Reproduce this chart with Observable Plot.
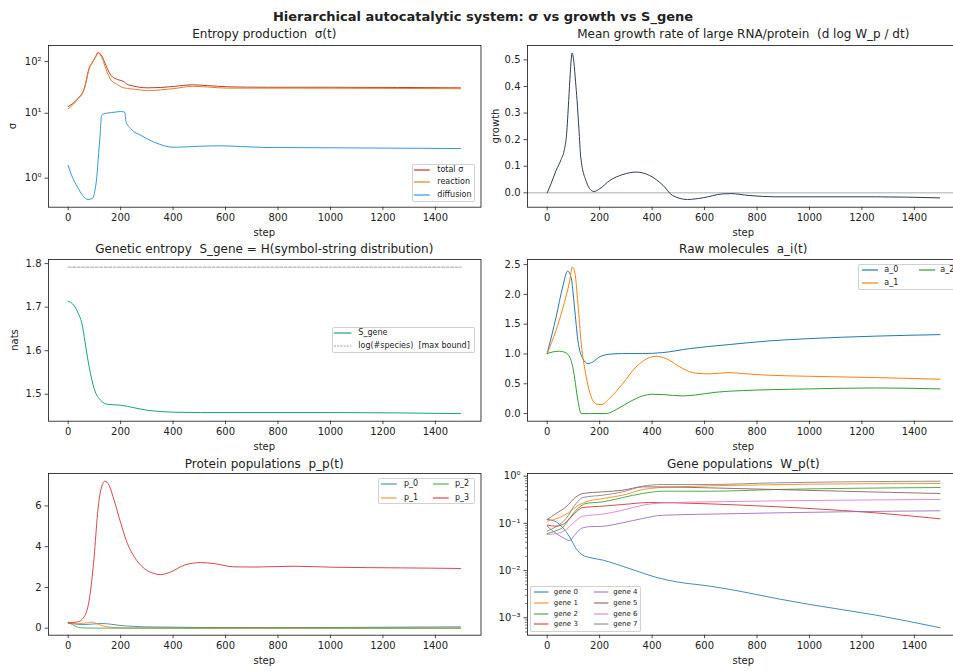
<!DOCTYPE html>
<html><head><meta charset="utf-8">
<script src="https://cdn.jsdelivr.net/npm/d3@7"></script>
<script src="https://cdn.jsdelivr.net/npm/@observablehq/plot@0.6"></script>
<style>
html,body{margin:0;padding:0;background:#fff;overflow:hidden;}
#fig{position:relative;width:953px;height:671px;overflow:hidden;font-family:"DejaVu Sans",sans-serif;color:#222;}
.t{position:absolute;white-space:pre;line-height:1;}
.lg{position:absolute;box-sizing:border-box;border:1px solid rgba(204,204,204,0.9);border-radius:2px;background:rgba(255,255,255,0.8);}
</style></head><body><div id="fig"></div>
<script>
// ---------------- data ----------------
const xTicks = [0, 200, 400, 600, 800, 1000, 1200, 1400];
const stepDomain = [-75, 1574];

// Entropy production sigma(t): [step, value]
const sigmaTotal = [[0,13.5],[36,19],[61,29.7],[81,77],[93,98],[105,125],[114,150],[125,135],[150,72],[163,54],[188,45],[201,43],[215,40],[222,37],[240,34.5],[270,32],[302,31],[353,31.5],[404,33],[474,35.5],[531,34.3],[607,32.5],[759,31.8],[1013,31.8],[1496,31]];
const sigmaReaction = [[0,12.2],[36,18.5],[61,29],[81,75],[93,97],[105,124],[114,147],[125,128],[150,60],[163,44],[188,36],[201,32.5],[226,30.2],[252,29.2],[302,27.5],[353,28.3],[404,30],[474,33.2],[531,32.2],[607,30.6],[759,30.6],[1013,30.5],[1496,29.8]];
const sigmaDiffusion = [[0,1.44],[16,1.035],[36,0.687],[55,0.40],[76,0.26],[93,0.30],[102,0.57],[109,1.035],[116,1.85],[122,4.0],[127,9.05],[137,9.75],[175,10.47],[200,10.8],[216,10.5],[220,7.0],[239,5.0],[278,3.72],[329,2.75],[404,2.2],[506,2.31],[582,2.35],[658,2.28],[759,2.18],[1013,2.15],[1496,2.08]];
const sigmaTicks = [1, 10, 100];
const sigmaTickLabels = ["10\u2070", "10\u00b9", "10\u00b2"];

// Mean growth rate
const growth = [[0,0],[15,0.035],[34,0.084],[53,0.125],[65,0.16],[74,0.22],[82,0.347],[88,0.45],[95,0.526],[102,0.49],[108,0.42],[114,0.347],[121,0.24],[128,0.134],[150,0.04],[165,0.012],[178,0.005],[200,0.015],[238,0.046],[289,0.069],[340,0.078],[391,0.065],[442,0.028],[478,-0.01],[535,-0.025],[592,-0.019],[669,-0.004],[700,-0.003],[770,-0.01],[871,-0.015],[998,-0.015],[1252,-0.015],[1497,-0.019]];
const growthTicks = [0, 0.1, 0.2, 0.3, 0.4, 0.5];

// Genetic entropy
const sGene = [[0,1.7135],[16,1.708],[36,1.689],[55,1.655],[67,1.609],[80,1.563],[99,1.513],[124,1.486],[150,1.477],[201,1.4748],[252,1.469],[302,1.4633],[379,1.4595],[404,1.4588],[505,1.458],[1013,1.458],[1496,1.4556]];
const sGeneBound = [[0,1.7918],[1499,1.7918]];
const sGeneTicks = [1.5, 1.6, 1.7, 1.8];

// Raw molecules
const a0 = [[0,1.007],[34,1.62],[59,2.125],[78,2.39],[91,2.29],[104,1.79],[117,1.23],[136,0.92],[155,0.84],[174,0.867],[199,0.95],[237,0.996],[288,1.007],[364,1.007],[440,1.023],[542,1.09],[694,1.158],[847,1.22],[999,1.258],[1253,1.30],[1498,1.325]];
const a1 = [[0,1.007],[34,1.40],[59,1.76],[85,2.21],[96,2.46],[106,2.35],[117,1.85],[130,1.17],[149,0.615],[168,0.28],[187,0.16],[205,0.15],[237,0.252],[288,0.503],[339,0.783],[390,0.94],[415,0.962],[453,0.923],[517,0.755],[567,0.677],[618,0.666],[694,0.688],[745,0.671],[847,0.643],[999,0.626],[1253,0.604],[1498,0.576]];
const a2 = [[0,1.007],[22,1.035],[47,1.046],[72,1.018],[91,0.895],[104,0.615],[117,0.224],[130,0],[161,0],[225,0],[263,0.067],[314,0.196],[364,0.296],[402,0.324],[440,0.319],[517,0.296],[567,0.313],[643,0.358],[745,0.386],[872,0.403],[999,0.414],[1253,0.43],[1498,0.414]];
const aTicks = [0, 0.5, 1, 1.5, 2, 2.5];

// Protein populations
const p0 = [[0,0.26],[30,0.2],[61,0.18],[100,0.21],[130,0.23],[160,0.2],[201,0.13],[250,0.09],[290,0.065],[400,0.05],[505,0.035],[800,0.03],[1013,0.035],[1250,0.05],[1496,0.065]];
const p1 = [[0,0.25],[36,0.22],[70,0.26],[93,0.3],[110,0.22],[124,0.15],[150,0.07],[175,0.03],[230,0.01],[400,0.005],[1496,0.003]];
const p2 = [[0,0.3],[12,0.2],[25,0.11],[40,0.04],[55,0.015],[100,0.005],[1496,0.002]];
const p3 = [[0,0.26],[36,0.31],[61,0.56],[80,1.37],[99,3.5],[112,5.62],[124,6.77],[140,7.21],[156,7.01],[175,6.28],[201,5.13],[226,4.15],[252,3.5],[290,2.93],[328,2.68],[353,2.63],[391,2.76],[442,3.09],[505,3.22],[556,3.17],[632,3.01],[709,3.0],[861,3.04],[1013,2.99],[1267,2.96],[1496,2.93]];
const pTicks = [0, 2, 4, 6];

// Gene populations
const g0 = [[0,0.121],[34,0.108],[59,0.082],[85,0.052],[110,0.0295],[136,0.0212],[161,0.019],[212,0.0167],[263,0.0137],[339,0.0099],[415,0.0072],[491,0.0058],[618,0.0047],[745,0.00356],[872,0.00257],[999,0.00192],[1253,0.00114],[1498,0.000615]];
const g1 = [[0,0.111],[47,0.133],[80,0.165],[110,0.224],[148,0.286],[212,0.336],[288,0.396],[364,0.52],[415,0.566],[491,0.594],[745,0.645],[999,0.677],[1498,0.70]];
const g2 = [[0,0.061],[34,0.070],[59,0.082],[85,0.127],[110,0.19],[148,0.264],[212,0.286],[288,0.353],[364,0.43],[440,0.481],[618,0.48],[872,0.522],[1498,0.575]];
const g3 = [[0,0.092],[34,0.087],[66,0.10],[98,0.149],[136,0.217],[212,0.232],[288,0.251],[390,0.277],[491,0.272],[745,0.243],[999,0.207],[1253,0.167],[1498,0.125]];
const g4 = [[0,0.087],[34,0.061],[66,0.048],[85,0.043],[104,0.056],[130,0.078],[161,0.085],[212,0.087],[288,0.103],[364,0.127],[440,0.149],[618,0.157],[872,0.167],[1126,0.176],[1498,0.185]];
const g5 = [[0,0.121],[34,0.162],[72,0.224],[110,0.365],[136,0.43],[212,0.466],[288,0.505],[364,0.594],[415,0.594],[618,0.566],[872,0.522],[1126,0.48],[1498,0.43]];
const g6 = [[0,0.058],[47,0.063],[72,0.074],[98,0.10],[136,0.142],[212,0.157],[288,0.19],[364,0.243],[440,0.272],[618,0.286],[872,0.30],[1126,0.31],[1498,0.321]];
const g7 = [[0,0.0685],[34,0.085],[72,0.127],[110,0.264],[136,0.353],[212,0.396],[288,0.466],[364,0.614],[440,0.667],[618,0.667],[872,0.723],[1126,0.758],[1498,0.784]];
const geneTicks = [1e-3, 1e-2, 1e-1, 1];
const geneTickLabels = ["10\u207b\u00b3", "10\u207b\u00b2", "10\u207b\u00b9", "10\u2070"];

// ---------------- helpers ----------------
const fig = document.getElementById("fig");
const tab10 = ["#1f77b4","#ff7f0e","#2ca02c","#d62728","#9467bd","#8c564b","#e377c2","#7f7f7f"];

// matplotlib-like symlog (linthresh 2, linscale 1, base 10)
const LT = 2, LS = 1 / (1 - 1 / 10);
function symf(v) {
  const a = Math.abs(v);
  const r = a <= LT ? a * LS : LT * (LS + Math.log10(a / LT));
  return Math.sign(v) * r;
}

const FW = 432.5, FH = 161.7;
const ML = 50, MT = 4, MR = 4, MB = 24;
const colX = [48, 527];
const rowY = [45, 259.2, 473.3];

function xAxis() {
  return Plot.axisX({ticks: xTicks, tickSize: 3.5, tickPadding: 3.5, tickFormat: d => String(d), label: null, strokeWidth: 0.8});
}

function panel(ci, ri, y, marks) {
  const p = Plot.plot({
    width: FW + ML + MR, height: FH + MT + MB,
    marginLeft: ML, marginRight: MR, marginTop: MT, marginBottom: MB,
    x: {domain: stepDomain, label: null},
    y: {...y, label: null},
    style: {fontFamily: "DejaVu Sans", fontSize: "10px", color: "#222", background: "transparent", overflow: "visible"},
    marks: [...marks, Plot.frame({stroke: "#111", strokeWidth: 0.8}), xAxis()]
  });
  p.style.position = "absolute";
  p.style.left = (colX[ci] - ML) + "px";
  p.style.top = (rowY[ri] - MT) + "px";
  fig.appendChild(p);
}

function line(data, color, opts = {}) {
  return Plot.line(data, {x: d => d[0], y: d => d[1], stroke: color, strokeWidth: 1, curve: "monotone-x", ...opts});
}

function text(str, x, y, size, extra = "") {
  const d = document.createElement("div");
  d.className = "t";
  d.textContent = str;
  d.style.cssText += `left:${x}px;top:${y}px;font-size:${size}px;transform:translate(-50%,-50%) ${extra};`;
  fig.appendChild(d);
  return d;
}

function legend(left, top, w, h, items, lay) {
  const box = document.createElement("div");
  box.className = "lg";
  box.style.cssText += `left:${left}px;top:${top}px;width:${w}px;height:${h}px;`;
  fig.appendChild(box);
  items.forEach((it, i) => {
    const c = Math.floor(i / lay.rows), r = i % lay.rows;
    const cy = top + lay.y0 + r * lay.dy;
    const sx = left + lay.sx[c];
    const s = document.createElementNS("http://www.w3.org/2000/svg", "svg");
    s.setAttribute("width", lay.len + 2); s.setAttribute("height", 4);
    s.style.cssText = `position:absolute;left:${sx - 1}px;top:${cy - 2}px;overflow:visible;`;
    const l = document.createElementNS("http://www.w3.org/2000/svg", "line");
    l.setAttribute("x1", 1); l.setAttribute("x2", lay.len + 1); l.setAttribute("y1", 2); l.setAttribute("y2", 2);
    l.setAttribute("stroke", it.color); l.setAttribute("stroke-width", it.width || 1.2);
    if (it.dash) l.setAttribute("stroke-dasharray", it.dash);
    if (it.opacity) l.setAttribute("stroke-opacity", it.opacity);
    s.appendChild(l); fig.appendChild(s);
    const t = document.createElement("div");
    t.className = "t";
    t.textContent = it.label;
    t.style.cssText += `left:${left + lay.tx[c]}px;top:${cy}px;font-size:${lay.fs}px;transform:translateY(-50%);`;
    fig.appendChild(t);
  });
}

// ---------------- panels ----------------
const cTotal = "#c0392b", cReact = "#e67e22", cDiff = "#3498db";
// Entropy production (symlog y)
panel(0, 0, {domain: [-0.01, 6.24]}, [
  Plot.line(sigmaTotal, {x: d => d[0], y: d => symf(d[1]), stroke: cTotal, strokeWidth: 1, curve: "monotone-x"}),
  Plot.line(sigmaReaction, {x: d => d[0], y: d => symf(d[1]), stroke: cReact, strokeWidth: 1, curve: "monotone-x"}),
  Plot.line(sigmaDiffusion, {x: d => d[0], y: d => symf(d[1]), stroke: cDiff, strokeWidth: 1, curve: "monotone-x"}),
  Plot.axisY({ticks: sigmaTicks.map(symf), tickSize: 3.5, tickPadding: 3.5, strokeWidth: 0.8, label: null,
    tickFormat: d => sigmaTickLabels[sigmaTicks.findIndex(t => Math.abs(symf(t) - d) < 1e-9)]})
]);

// Growth
panel(1, 0, {domain: [-0.054, 0.554]}, [
  Plot.ruleY([0], {stroke: "#999", strokeWidth: 0.8}),
  line(growth, "#2c3e50"),
  Plot.axisY({ticks: growthTicks, tickSize: 3.5, tickPadding: 3.5, strokeWidth: 0.8, label: null, tickFormat: d3.format(".1f")})
]);

// Genetic entropy
panel(0, 1, {domain: [1.4382, 1.8094]}, [
  line(sGene, "#16a085"),
  Plot.line(sGeneBound, {x: d => d[0], y: d => d[1], stroke: "#888", strokeWidth: 0.8, strokeDasharray: "3,1.5"}),
  Plot.axisY({ticks: sGeneTicks, tickSize: 3.5, tickPadding: 3.5, strokeWidth: 0.8, label: null, tickFormat: d3.format(".1f")})
]);

// Raw molecules
panel(1, 1, {domain: [-0.128, 2.586]}, [
  line(a0, tab10[0]), line(a1, tab10[1]), line(a2, tab10[2]),
  Plot.axisY({ticks: aTicks, tickSize: 3.5, tickPadding: 3.5, strokeWidth: 0.8, label: null, tickFormat: d3.format(".1f")})
]);

// Protein populations
panel(0, 2, {domain: [-0.343, 7.59]}, [
  line(p0, tab10[0], {strokeOpacity: 0.8}), line(p1, tab10[1], {strokeOpacity: 0.8}),
  line(p2, tab10[2], {strokeOpacity: 0.8}), line(p3, tab10[3], {strokeOpacity: 0.85}),
  Plot.axisY({ticks: pTicks, tickSize: 3.5, tickPadding: 3.5, strokeWidth: 0.8, label: null, tickFormat: d => String(d)})
]);

// Gene populations (log y)
const genes = [g0, g1, g2, g3, g4, g5, g6, g7];
const minorTicks = [];
for (let e = -4; e <= -1; e++) for (let k = 2; k <= 9; k++) { const v = k * Math.pow(10, e); if (v > 4.3e-4 && v < 1.14) minorTicks.push(v); }
panel(1, 2, {type: "log", domain: [Math.pow(10, -3.369), Math.pow(10, 0.057)]}, [
  ...genes.map((g, i) => line(g, tab10[i], {strokeOpacity: 0.85})),
  Plot.axisY({ticks: minorTicks, tickSize: 2, strokeWidth: 0.6, text: null, label: null}),
  Plot.axisY({ticks: geneTicks, tickSize: 3.5, tickPadding: 3.5, strokeWidth: 0.8, label: null,
    tickFormat: d => geneTickLabels[geneTicks.findIndex(t => Math.abs(Math.log10(t) - Math.log10(d)) < 1e-9)]})
]);

// ---------------- text ----------------
text("Hierarchical autocatalytic system: \u03c3 vs growth vs S_gene", 483, 16, 13).style.fontWeight = "bold";
const cx = [264.3, 743.3];
text("Entropy production  \u03c3(t)", cx[0], 34, 12);
text("Mean growth rate of large RNA/protein  (d log W_p / dt)", cx[1], 34, 12);
text("Genetic entropy  S_gene = H(symbol-string distribution)", cx[0], 249.3, 12);
text("Raw molecules  a_i(t)", cx[1], 249.3, 12);
text("Protein populations  p_p(t)", cx[0], 463.7, 12);
text("Gene populations  W_p(t)", cx[1], 463.7, 12);
[232.7, 447, 660.7].forEach(y => { text("step", cx[0], y, 10); text("step", cx[1], y, 10); });
text("\u03c3", 13.3, 126, 10, "rotate(-90deg)");
text("growth", 495.5, 126, 10, "rotate(-90deg)");
text("nats", 15, 340, 10, "rotate(-90deg)");

// ---------------- legends ----------------
legend(411.7, 164, 63.3, 37.7, [
  {label: "total \u03c3", color: cTotal}, {label: "reaction", color: cReact}, {label: "diffusion", color: cDiff}
], {rows: 3, sx: [2.6], len: 15.7, tx: [25.6], y0: 6.2, dy: 12.2, fs: 8});
legend(331.7, 326.7, 143.3, 26.6, [
  {label: "S_gene", color: "#16a085"}, {label: "log(#species)  [max bound]", color: "#888", dash: "2,1.2", width: 0.8}
], {rows: 2, sx: [2.6], len: 17.4, tx: [26.6], y0: 6.6, dy: 12.7, fs: 8});
legend(857.7, 264.3, 110, 25.7, [
  {label: "a_0", color: tab10[0]}, {label: "a_1", color: tab10[1]}, {label: "a_2", color: tab10[2]}
], {rows: 2, sx: [4, 61.6], len: 16, tx: [26.6, 82.6], y0: 5.2, dy: 13.4, fs: 8});
legend(377.7, 477.7, 97.3, 26.6, [
  {label: "p_0", color: tab10[0], opacity: 0.8}, {label: "p_1", color: tab10[1], opacity: 0.8},
  {label: "p_2", color: tab10[2], opacity: 0.8}, {label: "p_3", color: tab10[3], opacity: 0.85}
], {rows: 2, sx: [3.3, 55], len: 15.7, tx: [26.3, 77.3], y0: 6.6, dy: 13.4, fs: 8});
legend(530.3, 585.7, 110.7, 46, genes.map((g, i) => ({label: "gene " + i, color: tab10[i], opacity: 0.85})),
  {rows: 4, sx: [4, 63.4], len: 14.4, tx: [23.4, 83], y0: 6, dy: 10.9, fs: 7});
</script></body></html>
